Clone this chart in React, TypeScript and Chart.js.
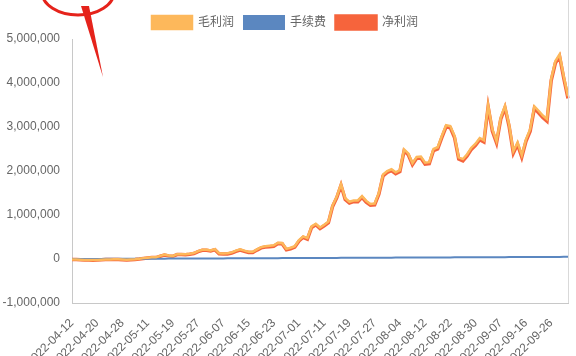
import { useEffect, useRef } from "react";
import { Chart, registerables } from "chart.js";

Chart.register(...registerables);

// Trading days (Shanghai/Shenzhen calendar) 2022-04-12 .. 2022-09-30
const aprDays = [12, 13, 14, 15, 18, 19, 20, 21, 22, 25, 26, 27, 28, 29];
const mayDays = [5, 6, 9, 10, 11, 12, 13, 16, 17, 18, 19, 20, 23, 24, 25, 26, 27, 30, 31];
const junDays = [1, 2, 6, 7, 8, 9, 10, 13, 14, 15, 16, 17, 20, 21, 22, 23, 24, 27, 28, 29, 30];
const julDays = [1, 4, 5, 6, 7, 8, 11, 12, 13, 14, 15, 18, 19, 20, 21, 22, 25, 26, 27, 28, 29];
const augDays = [1, 2, 3, 4, 5, 8, 9, 10, 11, 12, 15, 16, 17, 18, 19, 22, 23, 24, 25, 26, 29, 30, 31];
const sepDays = [1, 2, 5, 6, 7, 8, 9, 13, 14, 15, 16, 19, 20, 21, 22, 23, 26, 27, 28, 29, 30];

const pad = (n: number) => (n < 10 ? "0" + n : "" + n);
const categories: string[] = [
  ...aprDays.map((d) => `2022-04-${pad(d)}`),
  ...mayDays.map((d) => `2022-05-${pad(d)}`),
  ...junDays.map((d) => `2022-06-${pad(d)}`),
  ...julDays.map((d) => `2022-07-${pad(d)}`),
  ...augDays.map((d) => `2022-08-${pad(d)}`),
  ...sepDays.map((d) => `2022-09-${pad(d)}`),
];

// values in thousands of yuan
const grossProfitK = [
  -10, -10, -15, -20, -20, -25, -20, -15, -10, -10, -5, -5, -10, -15,
  -10, -5, 5, 20, 30, 40, 40, 70, 100, 80, 70, 110, 110, 110, 120, 135,
  180, 210, 210, 195, 225, 130, 125, 130, 150, 190, 220, 190, 165, 165, 220,
  270, 290, 300, 310, 370, 365, 230, 255, 290, 430, 515, 475, 740, 800, 715,
  780, 850, 1220, 1420, 1700, 1380, 1300, 1330, 1330, 1430, 1320, 1250, 1260, 1500, 1920,
  2000, 2040, 1970, 2020, 2490, 2400, 2180, 2320, 2330, 2190, 2200, 2500, 2540, 2800, 3040,
  3020, 2800, 2310, 2270, 2380, 2530, 2620, 2750, 2700, 3500, 2950, 2680, 3220, 3480, 3050,
  2450, 2650, 2360, 2720, 2950, 3470, 3370, 3260, 3180, 4100, 4500, 4650, 4150, 3700,
];

const feeK = [
  0, 0.3, 0.7, 1.0, 1.4, 1.8, 2.1, 2.5, 2.9, 3.3,
  3.7, 4.1, 4.5, 4.9, 5.3, 5.7, 6.1, 6.5, 6.9, 7.3,
  7.7, 8.1, 8.5, 8.9, 9.3, 9.7, 10.1, 10.5, 10.9, 11.3,
  11.7, 12.1, 12.6, 13.0, 13.4, 13.8, 14.2, 14.6, 15.0, 15.4,
  15.8, 16.2, 16.6, 17.0, 17.4, 17.8, 18.2, 18.7, 19.1, 19.5,
  19.9, 20.3, 20.7, 21.1, 21.5, 21.9, 22.4, 22.8, 23.2, 23.6,
  24.0, 24.5, 24.9, 25.4, 25.8, 26.2, 26.6, 27.0, 27.5, 27.9,
  28.3, 28.7, 29.1, 29.6, 30.0, 30.4, 30.8, 31.3, 31.7, 32.1,
  32.5, 33.0, 33.4, 33.8, 34.2, 34.7, 35.1, 35.5, 35.9, 36.4,
  36.8, 37.2, 37.6, 38.1, 38.5, 38.9, 39.3, 39.8, 40.2, 40.6,
  41.0, 41.5, 41.9, 42.3, 42.8, 43.2, 43.6, 44.0, 44.5, 44.9,
  45.3, 45.7, 46.2, 46.6, 47.0, 47.4, 47.9, 48.3, 48.7,
];

const netProfitK = [
  -10, -10, -16, -21, -21, -27, -22, -17, -13, -13, -9, -9, -15, -20,
  -15, -11, -1, 13, 23, 33, 32, 62, 92, 71, 61, 100, 100, 99, 109, 124,
  168, 198, 197, 182, 212, 116, 111, 115, 135, 175, 204, 174, 148, 148, 203,
  252, 272, 281, 291, 350, 345, 210, 234, 269, 408, 493, 453, 717, 777, 691,
  756, 825, 1195, 1395, 1674, 1354, 1273, 1303, 1302, 1402, 1292, 1221, 1231, 1470, 1890,
  1970, 2009, 1939, 1988, 2458, 2367, 2147, 2287, 2296, 2156, 2165, 2465, 2504, 2764, 3004,
  2983, 2763, 2272, 2232, 2341, 2491, 2581, 2710, 2660, 3459, 2909, 2638, 3178, 3438, 3007,
  2407, 2606, 2316, 2675, 2905, 3425, 3324, 3214, 3133, 4053, 4453, 4602, 4102, 3651,
];

const seriesNames = ["毛利润", "手续费", "净利润"];
const seriesColors = ["#FDB85B", "#5B87C0", "#F6643C"];

const yMin = -1000000;
const yMax = 5000000;
const yStep = 1000000;
const labelEvery = 6;

const decorPlugin = {
  id: "decor",
  afterDraw(chart: any) {
    const { ctx, chartArea } = chart;
    ctx.save();
    // right frame line
    ctx.strokeStyle = "#d9d9d9";
    ctx.lineWidth = 1;
    ctx.beginPath();
    ctx.moveTo(chartArea.right + 0.5, 0);
    ctx.lineTo(chartArea.right + 0.5, chartArea.bottom);
    ctx.stroke();
    // hand-drawn red annotation
    ctx.strokeStyle = "#E5231B";
    ctx.fillStyle = "#E5231B";
    ctx.lineWidth = 3;
    ctx.beginPath();
    ctx.ellipse(78, -8, 36, 23, 0, 0, Math.PI * 2);
    ctx.stroke();
    ctx.beginPath();
    ctx.moveTo(81, 6);
    ctx.lineTo(89, 6);
    ctx.lineTo(103, 77);
    ctx.closePath();
    ctx.fill();
    ctx.restore();
  },
};

export default function App() {
  const ref = useRef<HTMLCanvasElement | null>(null);

  useEffect(() => {
    if (!ref.current) return;
    Chart.defaults.font.family = "Arial, 'Liberation Sans', 'Noto Sans CJK SC', sans-serif";
    Chart.defaults.font.size = 12;
    Chart.defaults.color = "#666";
    const series = [grossProfitK, feeK, netProfitK];
    const widths = [2.5, 2, 3.5];
    const chart = new Chart(ref.current, {
      type: "line",
      data: {
        labels: categories,
        datasets: series.map((s, i) => ({
          label: seriesNames[i],
          data: s.map((v) => v * 1000),
          borderColor: seriesColors[i],
          backgroundColor: seriesColors[i],
          borderWidth: widths[i],
          pointRadius: 0,
          tension: 0,
          fill: false,
        })),
      },
      options: {
        responsive: false,
        animation: false,
        layout: { padding: { left: 2, right: 8, top: 6, bottom: 0 } },
        plugins: {
          legend: {
            position: "top",
            labels: { boxWidth: 40, boxHeight: 13, padding: 10, color: "#666" },
          },
          tooltip: { enabled: false },
        },
        scales: {
          x: {
            grid: { display: false, drawTicks: false },
            border: { display: true, color: "#c8c8c8" },
            afterFit: (scale: any) => {
              scale.height = 53;
              scale.paddingLeft = 0;
              scale.paddingRight = 0;
            },
            ticks: {
              autoSkip: false,
              maxRotation: 45,
              minRotation: 45,
              padding: 13,
              color: "#666",
              callback: (_v: any, i: number) => (i % labelEvery === 0 ? categories[i] : ""),
            },
          },
          y: {
            min: yMin,
            max: yMax,
            grid: { display: false, drawTicks: false },
            border: { display: true, color: "#c8c8c8" },
            afterFit: (scale: any) => {
              scale.width = 70;
            },
            ticks: {
              stepSize: yStep,
              padding: 12,
              color: "#666",
              callback: (v: any) => Number(v).toLocaleString("en-US"),
            },
          },
        },
      },
      plugins: [decorPlugin],
    });
    return () => chart.destroy();
  }, []);

  return (
    <div
      style={{
        position: "fixed",
        left: 0,
        top: 0,
        width: 576,
        height: 356,
        overflow: "hidden",
        background: "#fff",
      }}
    >
      <canvas ref={ref} width={576} height={356} style={{ display: "block" }} />
    </div>
  );
}
